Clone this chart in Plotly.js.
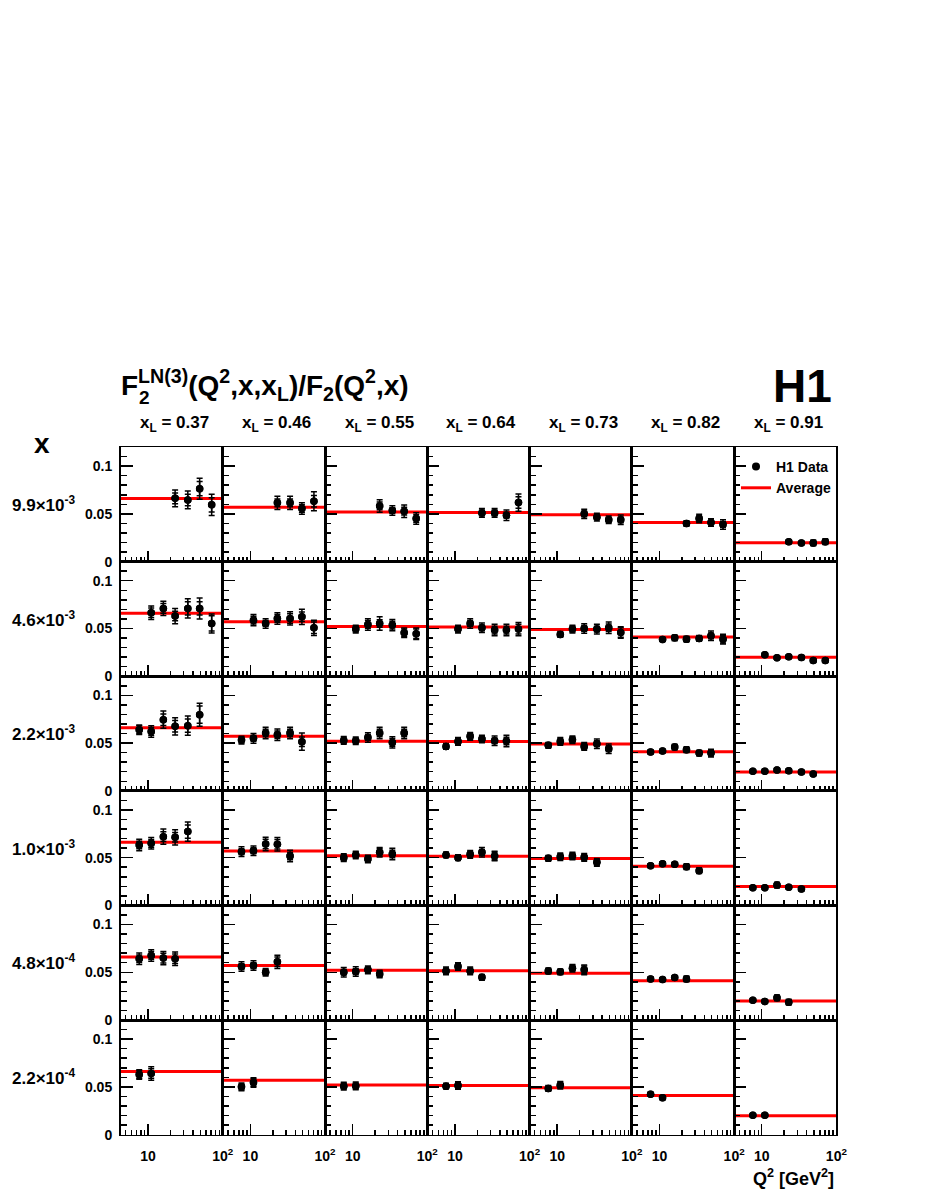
<!DOCTYPE html>
<html>
<head>
<meta charset="utf-8">
<script src="https://cdn.plot.ly/plotly-3.0.1.min.js"></script>
<style>
body { margin: 0; background: #fff; }
#graph { width: 926px; height: 1199px; }
</style>
</head>
<body>
<div id="graph"></div>
<script>
/*x_L bins, one per column*/
var xlLabels = ['0.37', '0.46', '0.55', '0.64', '0.73', '0.82', '0.91'];
/*Bjorken x bins, one per row*/
var xLabels = ['9.9×10<sup>-3</sup>', '4.6×10<sup>-3</sup>', '2.2×10<sup>-3</sup>',
    '1.0×10<sup>-3</sup>', '4.8×10<sup>-4</sup>', '2.2×10<sup>-4</sup>'];
/*average ratio for each x_L column (red line)*/
var avgRatio = [0.066, 0.057, 0.052, 0.0515, 0.049, 0.041, 0.0198];
/*Q2 values measured in each row*/
var q2Row = [
    [23, 34, 49, 71],
    [11, 16, 23, 34, 49, 71],
    [7.6, 11, 16, 23, 34, 49],
    [7.6, 11, 16, 23, 34],
    [7.6, 11, 16, 23],
    [7.6, 11]
];
/*ratio F2LN(3)/F2, one list per row, one sub list per x_L column*/
var ratioX99e3 = [
    [0.0663, 0.0646, 0.0764, 0.0594], [0.0615, 0.0615, 0.0556, 0.0632], [0.0583, 0.0535, 0.0528, 0.0451],
    [0.051, 0.051, 0.0486, 0.0618], [0.050, 0.0465, 0.0438, 0.0438], [0.0399, 0.0451, 0.041, 0.0389],
    [0.0207, 0.0195, 0.0195, 0.0209]
];
var ratioX46e3 = [
    [0.0664, 0.071, 0.063, 0.071, 0.071, 0.0552], [0.0587, 0.0552, 0.0605, 0.0605, 0.0622, 0.0507],
    [0.0493, 0.0542, 0.0552, 0.0535, 0.0455, 0.0444], [0.0493, 0.0552, 0.0507, 0.0483, 0.0483, 0.0493],
    [0.0437, 0.0493, 0.050, 0.0493, 0.0507, 0.0458], [0.0385, 0.0402, 0.0388, 0.0395, 0.0423, 0.0388],
    [0.0224, 0.0192, 0.0203, 0.0196, 0.0164, 0.0164]
];
var ratioX22e3 = [
    [0.064, 0.0622, 0.0745, 0.0675, 0.0682, 0.0797], [0.0531, 0.0549, 0.0605, 0.0587, 0.0605, 0.0514],
    [0.0528, 0.0524, 0.0559, 0.0605, 0.0507, 0.0605], [0.0465, 0.0517, 0.057, 0.0542, 0.0524, 0.0521],
    [0.0476, 0.0517, 0.0535, 0.0465, 0.0493, 0.0441], [0.0406, 0.0416, 0.0458, 0.043, 0.0395, 0.0395],
    [0.0206, 0.0206, 0.0217, 0.021, 0.0196, 0.0175]
];
var ratioX10e3 = [
    [0.0633, 0.065, 0.072, 0.0713, 0.0773], [0.0563, 0.0573, 0.0643, 0.064, 0.0517],
    [0.050, 0.0528, 0.0486, 0.0556, 0.0538], [0.0528, 0.050, 0.0535, 0.0556, 0.0517],
    [0.0493, 0.051, 0.0517, 0.0503, 0.0451], [0.0416, 0.0437, 0.043, 0.0406, 0.0364],
    [0.0185, 0.0185, 0.0213, 0.0189, 0.0171]
];
var ratioX48e4 = [
    [0.0641, 0.0676, 0.0648, 0.0641], [0.056, 0.057, 0.050, 0.0609], [0.050, 0.0507, 0.0525, 0.0482],
    [0.0514, 0.056, 0.0514, 0.0447], [0.0514, 0.0504, 0.0542, 0.0525], [0.043, 0.0423, 0.0444, 0.043],
    [0.0208, 0.0194, 0.0232, 0.0187]
];
var ratioX22e4 = [
    [0.0629, 0.064], [0.050, 0.0545], [0.0507, 0.051], [0.0507, 0.0514], [0.0483, 0.0517],
    [0.0423, 0.0385], [0.0203, 0.0203]
];
/*total errors*/
var totErrX99e3 = [
    [0.0088, 0.0093, 0.011, 0.011], [0.007, 0.007, 0.006, 0.010], [0.0065, 0.005, 0.0065, 0.006],
    [0.0045, 0.0045, 0.0055, 0.009], [0.0048, 0.004, 0.004, 0.005], [0.003, 0.0045, 0.004, 0.005],
    [0.002, 0.0015, 0.003, 0.003]
];
var totErrX46e3 = [
    [0.007, 0.0075, 0.008, 0.010, 0.011, 0.010], [0.006, 0.005, 0.006, 0.007, 0.008, 0.008],
    [0.004, 0.006, 0.007, 0.006, 0.005, 0.006], [0.004, 0.005, 0.005, 0.006, 0.006, 0.007],
    [0.003, 0.004, 0.005, 0.005, 0.006, 0.006], [0.002, 0.003, 0.003, 0.003, 0.005, 0.005],
    [0.0015, 0.0015, 0.002, 0.002, 0.002, 0.002]
];
var totErrX22e3 = [
    [0.005, 0.006, 0.009, 0.009, 0.010, 0.012], [0.004, 0.005, 0.006, 0.006, 0.006, 0.009],
    [0.004, 0.004, 0.005, 0.006, 0.006, 0.006], [0.003, 0.004, 0.004, 0.004, 0.005, 0.006],
    [0.003, 0.004, 0.004, 0.004, 0.005, 0.005], [0.002, 0.002, 0.003, 0.003, 0.003, 0.004],
    [0.0015, 0.0015, 0.002, 0.002, 0.002, 0.0015]
];
var totErrX10e3 = [
    [0.006, 0.006, 0.008, 0.008, 0.010], [0.005, 0.005, 0.007, 0.007, 0.006],
    [0.004, 0.004, 0.004, 0.005, 0.006], [0.003, 0.003, 0.004, 0.005, 0.005],
    [0.003, 0.004, 0.004, 0.004, 0.004], [0.002, 0.002, 0.002, 0.003, 0.003],
    [0.0015, 0.0015, 0.003, 0.002, 0.002]
];
var totErrX48e4 = [
    [0.006, 0.006, 0.007, 0.007], [0.005, 0.005, 0.004, 0.007], [0.005, 0.005, 0.004, 0.004],
    [0.004, 0.004, 0.004, 0.003], [0.003, 0.003, 0.004, 0.005], [0.002, 0.002, 0.002, 0.003],
    [0.0015, 0.0015, 0.003, 0.003]
];
var totErrX22e4 = [
    [0.005, 0.007], [0.004, 0.005], [0.004, 0.004], [0.003, 0.004], [0.003, 0.004],
    [0.002, 0.002], [0.0015, 0.0015]
];
/*statistical errors (inner tick)*/
var statErrX99e3 = [
    [0.0056, 0.006, 0.0075, 0.0075], [0.004, 0.004, 0.004, 0.006], [0.004, 0.003, 0.004, 0.004],
    [0.003, 0.003, 0.003, 0.006], [0.003, 0.0025, 0.0025, 0.003], [0.002, 0.003, 0.0025, 0.003],
    [0.0012, 0.001, 0.002, 0.002]
];
var statErrX46e3 = [
    [0.005, 0.005, 0.005, 0.007, 0.007, 0.008], [0.004, 0.003, 0.004, 0.005, 0.005, 0.006],
    [0.003, 0.004, 0.004, 0.004, 0.004, 0.005], [0.003, 0.003, 0.003, 0.004, 0.004, 0.005],
    [0.002, 0.003, 0.003, 0.003, 0.004, 0.005], [0.0015, 0.002, 0.002, 0.002, 0.003, 0.004],
    [0.001, 0.001, 0.0012, 0.0012, 0.0012, 0.0012]
];
var statErrX22e3 = [
    [0.004, 0.004, 0.006, 0.006, 0.007, 0.009], [0.003, 0.003, 0.004, 0.004, 0.004, 0.005],
    [0.003, 0.003, 0.003, 0.004, 0.004, 0.004], [0.002, 0.003, 0.003, 0.003, 0.003, 0.004],
    [0.002, 0.003, 0.003, 0.003, 0.003, 0.003], [0.0015, 0.0015, 0.002, 0.002, 0.002, 0.003],
    [0.001, 0.001, 0.0012, 0.0012, 0.0012, 0.001]
];
var statErrX10e3 = [
    [0.004, 0.004, 0.005, 0.005, 0.007], [0.003, 0.003, 0.005, 0.005, 0.004],
    [0.003, 0.003, 0.003, 0.004, 0.004], [0.002, 0.002, 0.003, 0.003, 0.004],
    [0.002, 0.003, 0.003, 0.003, 0.003], [0.0015, 0.0015, 0.0015, 0.002, 0.002],
    [0.001, 0.001, 0.002, 0.0012, 0.0012]
];
var statErrX48e4 = [
    [0.004, 0.004, 0.005, 0.005], [0.003, 0.003, 0.003, 0.005], [0.003, 0.003, 0.003, 0.003],
    [0.003, 0.003, 0.003, 0.002], [0.002, 0.002, 0.003, 0.004], [0.0015, 0.0015, 0.0015, 0.002],
    [0.001, 0.001, 0.002, 0.002]
];
var statErrX22e4 = [
    [0.004, 0.005], [0.003, 0.004], [0.003, 0.003], [0.002, 0.003], [0.002, 0.003],
    [0.0015, 0.0015], [0.001, 0.001]
];
var ratio = [ratioX99e3, ratioX46e3, ratioX22e3, ratioX10e3, ratioX48e4, ratioX22e4];
var totErr = [totErrX99e3, totErrX46e3, totErrX22e3, totErrX10e3, totErrX48e4, totErrX22e4];
var statErr = [statErrX99e3, statErrX46e3, statErrX22e3, statErrX10e3, statErrX48e4, statErrX22e4];

var W = 926, H = 1199;
var padLeft = 120.5, padTop = 447; /*top left corner of the panel grid, pixels*/
var cellW = 102.27, cellH = 114.6;
var fontFam = 'Liberation Sans, Arial, Helvetica, sans-serif';

function px(x) { return x / W; }
function py(y) { return 1 - y / H; }

function drawGraph() {
    var data = [];
    var shapes = [];
    var annotations = [];
    var layout = {
        width: W,
        height: H,
        margin: {l: 0, r: 0, t: 0, b: 0},
        paper_bgcolor: 'white',
        plot_bgcolor: 'rgba(0,0,0,0)',
        font: {family: fontFam, size: 13, color: 'black', weight: 'bold'},
        showlegend: true,
        legend: {
            x: px(736), y: py(451), xanchor: 'left', yanchor: 'top',
            bgcolor: 'rgba(0,0,0,0)', itemwidth: 30, tracegroupgap: 0,
            font: {family: fontFam, size: 14, color: 'black', weight: 'bold'}
        }
    };
    var r, c;
    for (r = 0; r < 6; r += 1) {
        for (c = 0; c < 7; c += 1) {
            var k = r * 7 + c + 1;
            var sx = k === 1 ? '' : String(k);
            var top = padTop + r * cellH;
            layout['xaxis' + sx] = {
                type: 'log',
                range: [0.63, 2],
                domain: [px(padLeft + c * cellW), px(padLeft + (c + 1) * cellW)],
                anchor: 'y' + sx,
                showline: true, mirror: true, linecolor: 'black', linewidth: 1.5,
                showgrid: false, zeroline: false,
                ticks: 'inside', tickvals: [10, 100], ticktext: ['10', '10<sup>2</sup>'],
                ticklen: 11, tickwidth: 1.5, tickcolor: 'black',
                minor: {ticks: 'inside', tickvals: [5, 6, 7, 8, 9, 20, 30, 40, 50, 60, 70, 80, 90],
                    ticklen: 5, tickwidth: 1.5, tickcolor: 'black', showgrid: false},
                showticklabels: r === 5,
                ticklabelstandoff: 8,
                tickfont: {family: fontFam, size: 14, weight: 'bold'},
                fixedrange: true
            };
            layout['yaxis' + sx] = {
                range: [0, 0.12],
                domain: [py(top + cellH), py(top)],
                anchor: 'x' + sx,
                showline: true, mirror: true, linecolor: 'black', linewidth: 1.5,
                showgrid: false, zeroline: false,
                ticks: 'inside', tickvals: [0, 0.05, 0.1], ticktext: ['0', '0.05', '0.1'],
                ticklen: 12, tickwidth: 1.5, tickcolor: 'black',
                minor: {ticks: 'inside', dtick: 0.01, ticklen: 6, tickwidth: 1.5, tickcolor: 'black', showgrid: false},
                showticklabels: c === 0,
                ticklabelstandoff: 4,
                tickfont: {family: fontFam, size: 14, weight: 'bold'},
                fixedrange: true
            };
            /*red average line across the whole panel*/
            shapes.push({
                type: 'line', layer: 'below',
                xref: 'x' + sx + ' domain', x0: 0, x1: 1,
                yref: 'y' + sx, y0: avgRatio[c], y1: avgRatio[c],
                line: {color: 'rgb(255,0,0)', width: 3}
            });
            /*total error with caps*/
            data.push({
                x: q2Row[r], y: ratio[r][c], xaxis: 'x' + sx, yaxis: 'y' + sx,
                type: 'scatter', mode: 'markers',
                marker: {color: 'black', size: 7.5},
                error_y: {type: 'data', array: totErr[r][c], visible: true, color: 'black', thickness: 1.5, width: 3},
                showlegend: false, hoverinfo: 'x+y'
            });
            /*statistical error as inner tick*/
            data.push({
                x: q2Row[r], y: ratio[r][c], xaxis: 'x' + sx, yaxis: 'y' + sx,
                type: 'scatter', mode: 'markers',
                marker: {color: 'black', size: 7.5},
                error_y: {type: 'data', array: statErr[r][c], visible: true, color: 'black', thickness: 1.5, width: 3},
                showlegend: false, hoverinfo: 'skip'
            });
        }
        /*row label with the x value*/
        annotations.push({
            text: xLabels[r], xref: 'paper', yref: 'paper',
            x: px(10), y: py(padTop + r * cellH + 57), xanchor: 'left', yanchor: 'middle',
            showarrow: false, font: {family: fontFam, size: 17, weight: 'bold'}
        });
    }
    /*column headers*/
    for (c = 0; c < 7; c += 1) {
        annotations.push({
            text: 'x<sub>L</sub> = ' + xlLabels[c], xref: 'paper', yref: 'paper',
            x: px(padLeft + (c + 0.5) * cellW + 3), y: py(424), xanchor: 'center', yanchor: 'middle',
            showarrow: false, font: {family: fontFam, size: 17, weight: 'bold'}
        });
    }
    /*legend entries only*/
    data.push({
        x: [null], y: [null], type: 'scatter', mode: 'markers', name: 'H1 Data',
        marker: {color: 'black', size: 8}
    });
    data.push({
        x: [null], y: [null], type: 'scatter', mode: 'lines', name: 'Average',
        line: {color: 'rgb(255,0,0)', width: 3}
    });
    annotations.push({
        text: 'F<sup>LN(3)</sup>(Q<sup>2</sup>,x,x<sub>L</sub>)/F<sub>2</sub>(Q<sup>2</sup>,x)',
        xref: 'paper', yref: 'paper', x: px(119), y: py(385), xanchor: 'left', yanchor: 'middle',
        showarrow: false, font: {family: fontFam, size: 28, weight: 'bold'}
    });
    annotations.push({
        text: '2', xref: 'paper', yref: 'paper', x: px(137), y: py(398), xanchor: 'left', yanchor: 'middle',
        showarrow: false, font: {family: fontFam, size: 19, weight: 'bold'}
    });
    annotations.push({
        text: 'H1', xref: 'paper', yref: 'paper', x: px(834), y: py(386), xanchor: 'right', yanchor: 'middle',
        showarrow: false, font: {family: fontFam, size: 46, weight: 'bold'}
    });
    annotations.push({
        text: 'x', xref: 'paper', yref: 'paper', x: px(42), y: py(444), xanchor: 'center', yanchor: 'middle',
        showarrow: false, font: {family: fontFam, size: 28, weight: 'bold'}
    });
    annotations.push({
        text: 'Q<sup>2</sup> [GeV<sup>2</sup>]', xref: 'paper', yref: 'paper', x: px(836), y: py(1177),
        xanchor: 'right', yanchor: 'middle',
        showarrow: false, font: {family: fontFam, size: 18, weight: 'bold'}
    });
    layout.shapes = shapes;
    layout.annotations = annotations;
    Plotly.newPlot('graph', data, layout, {staticPlot: true});
}
drawGraph();
</script>
</body>
</html>
